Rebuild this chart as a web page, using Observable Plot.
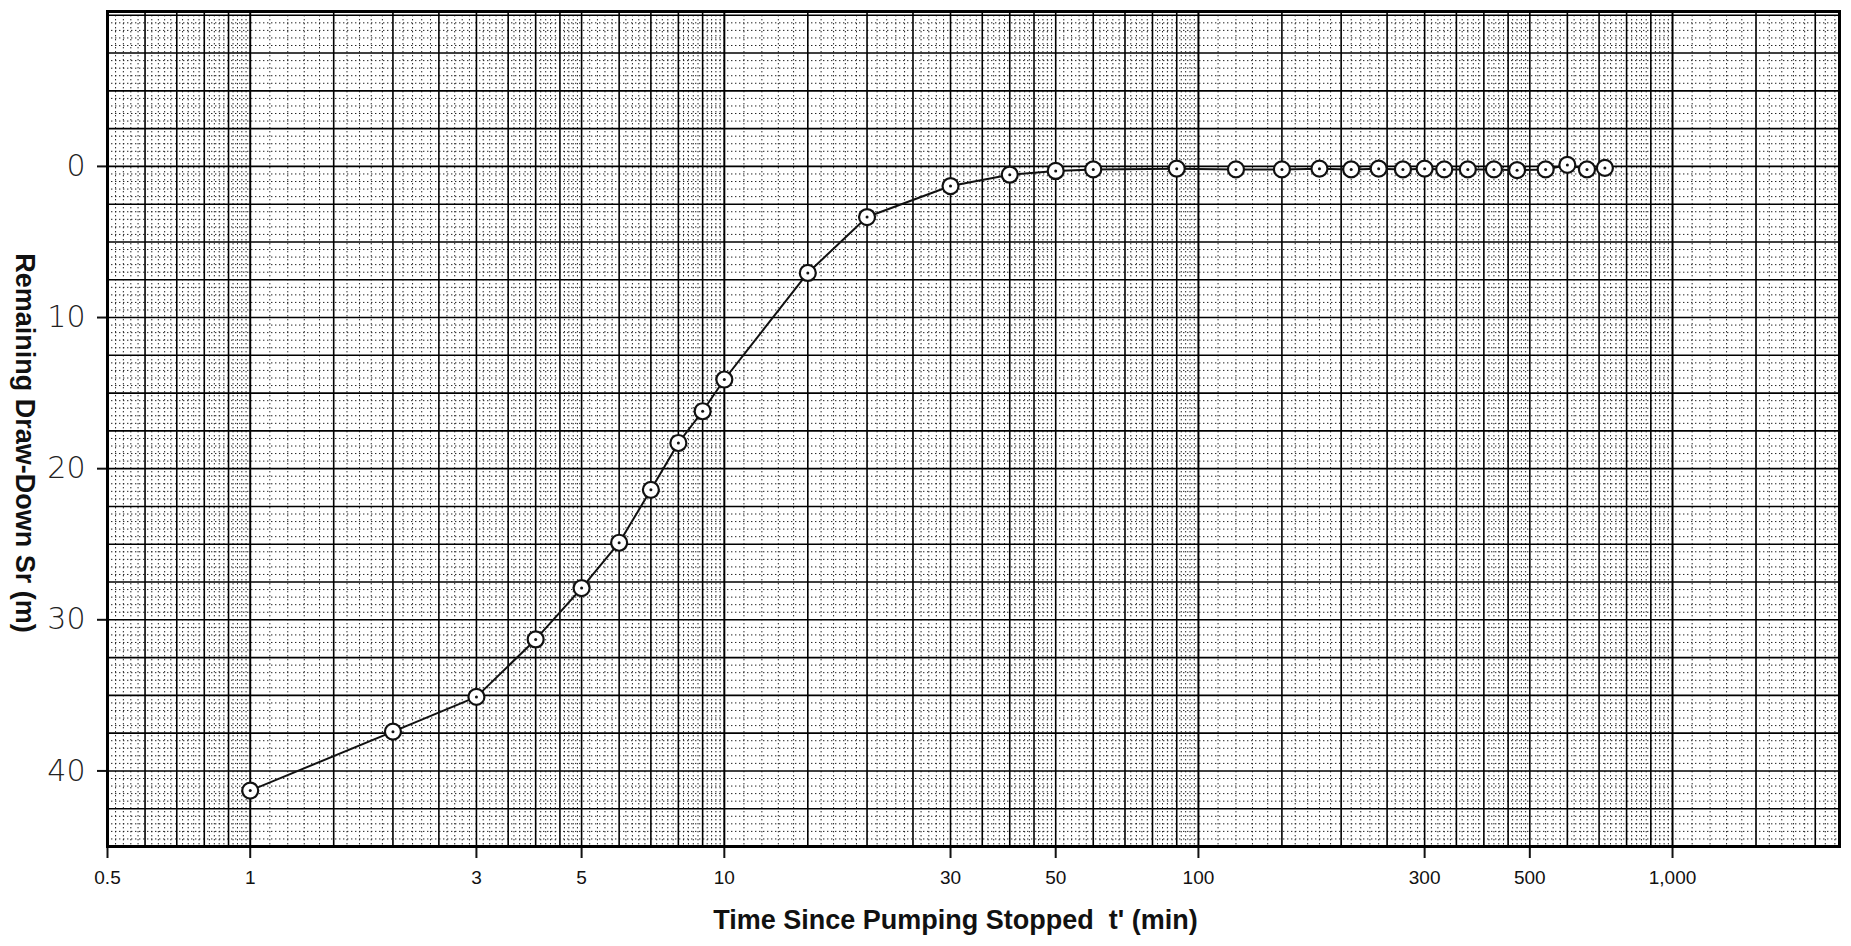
<!DOCTYPE html>
<html>
<head>
<meta charset="utf-8">
<script src="https://cdn.jsdelivr.net/npm/d3@7"></script>
<script src="https://cdn.jsdelivr.net/npm/@observablehq/plot@0.6"></script>
<style>
  html, body { margin: 0; padding: 0; background: #fff; }
  #chart svg { display: block; }
</style>
</head>
<body>
<div id="chart"></div>
<script>
// ---- data ----
const times = [1, 2, 3, 4, 5, 6, 7, 8, 9, 10, 15, 20, 30, 40, 50, 60,
  90, 120, 150, 180, 210, 240, 270, 300, 330, 370, 420, 470, 540, 600, 660, 720];
const drawdown = [41.3, 37.4, 35.1, 31.3, 27.9, 24.9, 21.4, 18.3, 16.2, 14.1, 7.05, 3.35, 1.3, 0.55, 0.3, 0.2,
  0.15, 0.2, 0.2, 0.15, 0.2, 0.15, 0.2, 0.15, 0.2, 0.2, 0.2, 0.25, 0.2, -0.1, 0.2, 0.1];
const xTicks = [0.5, 1, 3, 5, 10, 30, 50, 100, 300, 500, 1000];
const xTickLabels = ["0.5", "1", "3", "5", "10", "30", "50", "100", "300", "500", "1,000"];
const yTicks = [0, 10, 20, 30, 40];
const yTickLabels = ["0", "10", "20", "30", "40"];
const xLabel = "Time Since Pumping Stopped\u00a0 t' (min)";
const yLabel = "Remaining Draw-Down Sr (m)";

// graph-paper rulings (semi-log paper)
const solidMantissas = [1, 1.5, 2, 2.5, 3, 3.5, 4, 4.5, 5, 6, 7, 8, 9];
const xMin = 0.5, xMax = 2250, yMin = -10.25, yMax = 45;

const data = times.map((t, i) => ({t, s: drawdown[i]}));
const xLab = new Map(xTicks.map((t, i) => [t, xTickLabels[i]]));
const yLab = new Map(yTicks.map((t, i) => [t, yTickLabels[i]]));

const vSolid = [], vDecade = [], vDotted = [];
for (let e = -1; e <= 3; e++) {
  const p = Math.pow(10, e);
  for (const m of solidMantissas) {
    const v = +(m * p).toPrecision(6);
    if (v > xMin && v < xMax) (m === 1 ? vDecade : vSolid).push(v);
  }
  for (let k = 11; k < 50; k++) {
    if (k % 5 === 0) continue;
    const v = +((k / 10) * p).toPrecision(6);
    if (v > xMin && v < xMax) vDotted.push(v);
  }
  for (let k = 52; k < 100; k += 2) {
    if (k % 10 === 0) continue;
    const v = +((k / 10) * p).toPrecision(6);
    if (v > xMin && v < xMax) vDotted.push(v);
  }
}
const hSolid = [], hDotted = [];
for (let k = -20; k <= 90; k++) {
  const v = k * 0.5;
  if (v < yMin || v > yMax) continue;
  if (k % 5 === 0) hSolid.push(v); else hDotted.push(v);
}

const chart = Plot.plot({
  width: 1851,
  height: 946,
  marginLeft: 107,
  marginRight: 12,
  marginTop: 11,
  marginBottom: 100,
  style: {background: "#fff", color: "#111", fontFamily: "'Liberation Sans', Arial, sans-serif", overflow: "visible"},
  x: {type: "log", domain: [xMin, xMax]},
  y: {domain: [yMin, yMax], reverse: true},
  marks: [
    Plot.ruleY(hDotted, {stroke: "#222", strokeWidth: 1, strokeDasharray: "1.4,2.6"}),
    Plot.ruleX(vDotted, {stroke: "#222", strokeWidth: 1, strokeDasharray: "1.4,2.6"}),
    Plot.ruleY(hSolid, {stroke: "#000", strokeWidth: 1.6}),
    Plot.ruleX(vSolid, {stroke: "#000", strokeWidth: 1.6}),
    Plot.ruleX(vDecade, {stroke: "#000", strokeWidth: 2}),
    Plot.axisX({
      ticks: xTicks, text: d => xLab.get(d), tickSize: 12, tickPadding: 12,
      fontSize: 19, strokeWidth: 2, label: null, fill: "#111"
    }),
    Plot.axisY({
      ticks: yTicks, text: d => yLab.get(d), tickSize: 10, tickPadding: 12,
      fontSize: 30, fontFamily: "'DejaVu Sans', sans-serif", fontWeight: 200,
      strokeWidth: 2, label: null, fill: "#222"
    }),
    Plot.frame({stroke: "#000", strokeWidth: 3}),
    Plot.line(data, {x: "t", y: "s", stroke: "#111", strokeWidth: 2}),
    Plot.dot(data, {x: "t", y: "s", r: 8, fill: "#fff", stroke: "#111", strokeWidth: 2.2}),
    Plot.dot(data, {x: "t", y: "s", r: 1.5, fill: "#111", stroke: null}),
    Plot.text([xLabel], {
      frameAnchor: "bottom", lineAnchor: "middle", dy: 74, dx: -18,
      fontSize: 27, fontWeight: "bold", fill: "#111"
    }),
    Plot.text([yLabel], {
      frameAnchor: "left", textAnchor: "middle", lineAnchor: "middle", rotate: 90,
      dx: -83, dy: 14, fontSize: 27, fontWeight: "bold", fill: "#111"
    })
  ]
});
document.getElementById("chart").append(chart);
</script>
</body>
</html>
